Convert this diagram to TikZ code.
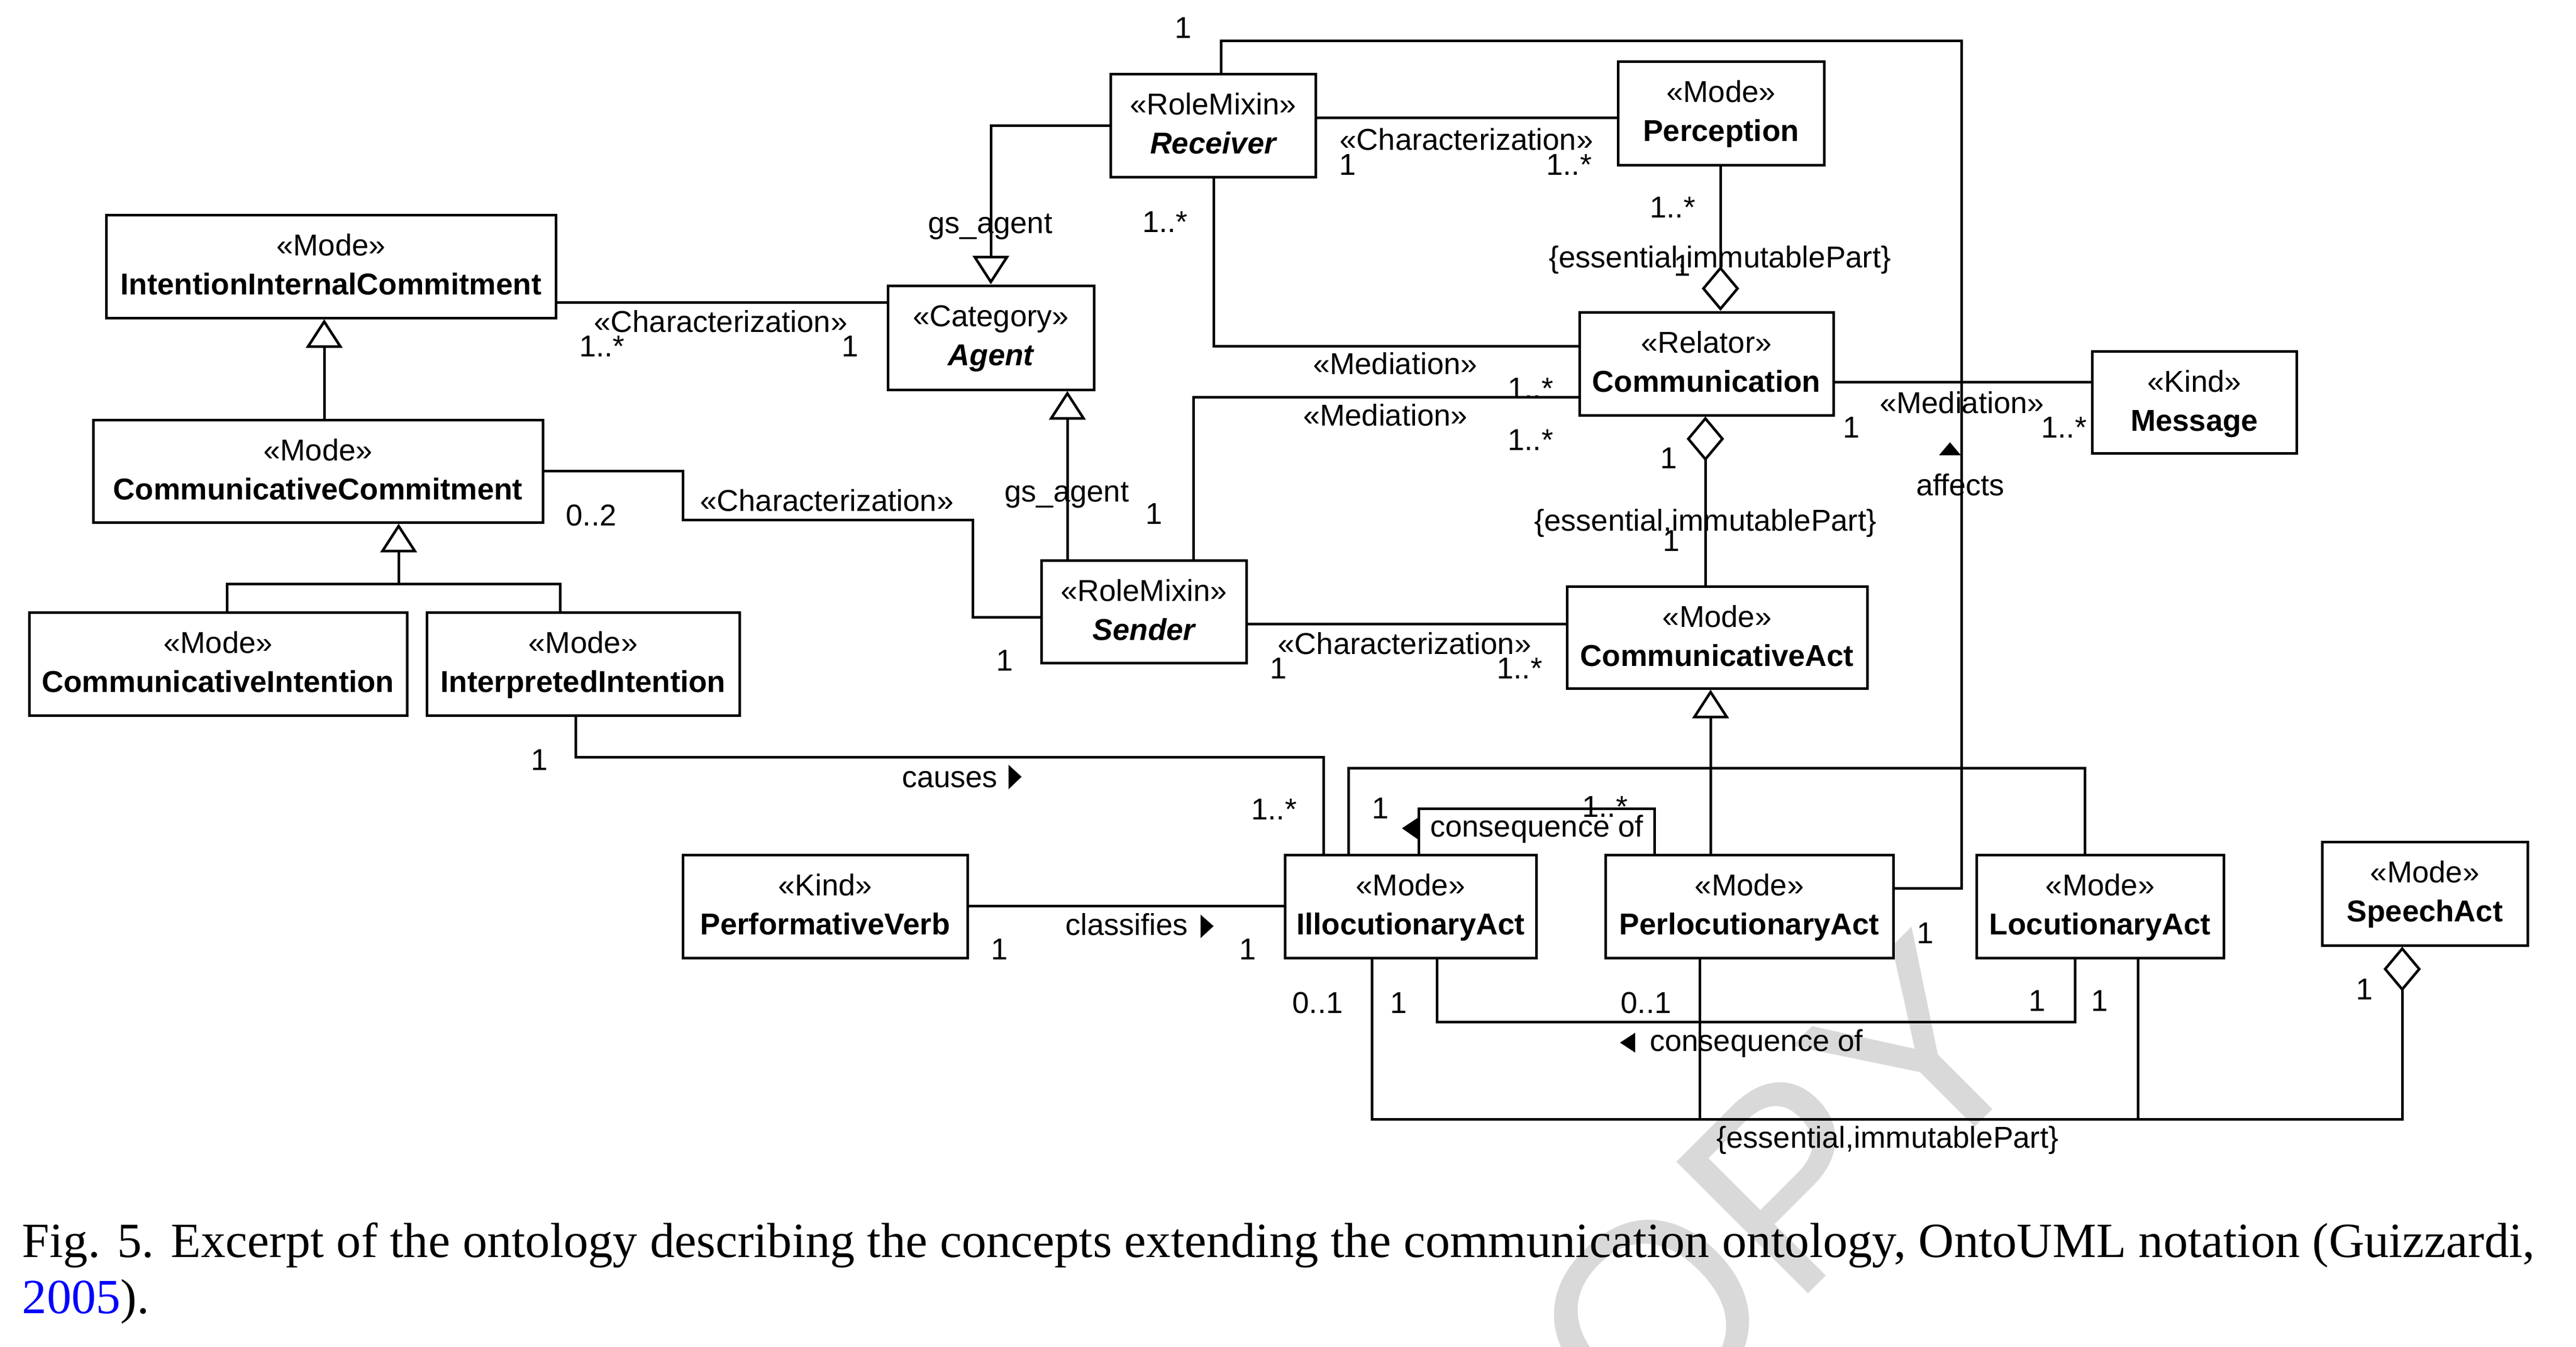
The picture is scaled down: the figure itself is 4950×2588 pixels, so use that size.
\documentclass[tikz,border=0pt]{standalone}
\usepackage{fontspec}
\setmainfont{Liberation Sans}
\newfontfamily\capfont{Liberation Serif}
\usetikzlibrary{arrows.meta,calc,fit}
\newcommand\diagfont{\fontsize{5.8pt}{7pt}\selectfont}
\tikzset{
  classbox/.style={draw, line width=0.5pt, fill=white, inner sep=0pt},
  stereo/.style={anchor=base, inner sep=0pt, font=\diagfont},
  cname/.style={anchor=base, inner sep=0pt, font=\diagfont\bfseries},
  cnamei/.style={anchor=base, inner sep=0pt, font=\diagfont\bfseries\itshape},
  lbl/.style={anchor=base, inner sep=0pt, font=\diagfont},
  conn/.style={line width=0.5pt},
  gen/.style={conn, -{Triangle[open, length=5.5pt, width=7pt]}},
  agg/.style={conn, {Diamond[open, length=8.6pt, width=7.2pt]}-},
  dirtri/.style={fill=black, draw=none},
  wmark/.style={inner sep=0pt, text=black!15, font=\fontsize{52pt}{60pt}\selectfont},
  capt/.style={inner sep=0pt, font=\capfont\fontsize{9.45pt}{11pt}\selectfont},
}
% name, x1, y1, x2, y2, stereotype, class name, name style
\newcommand\umlclass[8]{%
  \coordinate (#1nw) at (#2,#3);
  \coordinate (#1se) at (#4,#5);
  \node[classbox, fit=(#1nw)(#1se)] (#1) {};
  \node[stereo] (#1st) at ($(#1.north)+(0,81)$) {«#6»};
  \node[#8] (#1nm) at ($(#1.north)+(0,156)$) {#7};
}
\begin{document}
\begin{tikzpicture}[x=0.1pt,y=-0.1pt]
\useasboundingbox (0,0) rectangle (4950,2588);
\fill[white] (0,0) rectangle (4950,2588);

% watermark
\node[wmark, rotate=45, anchor=base east] (wm) at (3936,2025) {OPY};

% classes
\umlclass{iic}{204}{413}{1068}{611}{Mode}{IntentionInternalCommitment}{cname}
\umlclass{cc}{179}{807}{1043}{1004}{Mode}{CommunicativeCommitment}{cname}
\umlclass{ci}{56}{1177}{782}{1375}{Mode}{CommunicativeIntention}{cname}
\umlclass{ii}{820}{1177}{1421}{1375}{Mode}{InterpretedIntention}{cname}
\umlclass{agent}{1706}{549}{2102}{749}{Category}{Agent}{cnamei}
\umlclass{receiver}{2134}{142}{2528}{340}{RoleMixin}{Receiver}{cnamei}
\umlclass{perception}{3109}{118}{3505}{317}{Mode}{Perception}{cname}
\umlclass{comm}{3035}{600}{3523}{798}{Relator}{Communication}{cname}
\umlclass{message}{4020}{675}{4413}{871}{Kind}{Message}{cname}
\umlclass{sender}{2001}{1077}{2395}{1274}{RoleMixin}{Sender}{cnamei}
\umlclass{ca}{3011}{1127}{3588}{1323}{Mode}{CommunicativeAct}{cname}
\umlclass{pv}{1312}{1643}{1859}{1841}{Kind}{PerformativeVerb}{cname}
\umlclass{illoc}{2469}{1643}{2952}{1841}{Mode}{IllocutionaryAct}{cname}
\umlclass{perloc}{3085}{1643}{3638}{1841}{Mode}{PerlocutionaryAct}{cname}
\umlclass{loc}{3798}{1643}{4273}{1841}{Mode}{LocutionaryAct}{cname}
\umlclass{speech}{4462}{1618}{4857}{1817}{Mode}{SpeechAct}{cname}

% helper coordinates
\coordinate (g1) at (623,0);
\coordinate (g2) at (766,1122);
\coordinate (g2l) at (436,1122);
\coordinate (g2r) at (1076,1122);
\coordinate (ch1) at (0,581);
\coordinate (ch2a) at (1312,905);
\coordinate (ch2b) at (1869,999);
\coordinate (ch2c) at (0,1186);
\coordinate (ga1) at (1904,241);
\coordinate (ga2) at (2051,0);
\coordinate (rp) at (0,226);
\coordinate (rm) at (2332,665);
\coordinate (sm) at (2293,763);
\coordinate (pc) at (3306,0);
\coordinate (cc2) at (3277,0);
\coordinate (cmsg) at (0,734);
\coordinate (rpa) at (2346,78);
\coordinate (rpb) at (3769,1707);
\coordinate (sca) at (0,1199);
\coordinate (gca) at (3287,1476);
\coordinate (gcl) at (2591,1476);
\coordinate (gcr) at (4006,1476);
\coordinate (cs1) at (1106,1455);
\coordinate (cs2) at (2543,1455);
\coordinate (cl) at (0,1741);
\coordinate (co1) at (2726,1554);
\coordinate (co2) at (3179,1554);
\coordinate (co3) at (2761,1964);
\coordinate (co4) at (3987,1964);
\coordinate (e1) at (2636,2151);
\coordinate (e2) at (4616,2151);
\coordinate (e3) at (3266,2151);
\coordinate (e4) at (4108,2151);

% connectors
\draw[gen] (cc.north -| g1) -- (iic.south -| g1);
\draw[gen] (g2) -- (cc.south -| g2);
\draw[conn] (ci.north -| g2l) -- (g2l) -- (g2r) -- (ii.north -| g2r);
\draw[conn] (iic.east |- ch1) -- (agent.west |- ch1);
\draw[conn] (cc.east |- ch2a) -- (ch2a) |- (ch2b) |- (sender.west |- ch2c);
\draw[gen] (receiver.west |- ga1) -| (agent.north -| ga1);
\draw[gen] (sender.north -| ga2) -- (agent.south -| ga2);
\draw[conn] (receiver.east |- rp) -- (perception.west |- rp);
\draw[conn] (receiver.south -| rm) |- (comm.west |- rm);
\draw[conn] (sender.north -| sm) |- (comm.west |- sm);
\draw[agg] (comm.north -| pc) -- (perception.south -| pc);
\draw[agg] (comm.south -| cc2) -- (ca.north -| cc2);
\draw[conn] (comm.east |- cmsg) -- (message.west |- cmsg);
\draw[conn] (receiver.north -| rpa) -- (rpa) -| (rpb) -- (perloc.east |- rpb);
\draw[conn] (sender.east |- sca) -- (ca.west |- sca);
\draw[gen] (perloc.north -| gca) -- (ca.south -| gca);
\draw[conn] (illoc.north -| gcl) -- (gcl) -- (gcr) -- (loc.north -| gcr);
\draw[conn] (ii.south -| cs1) -- (cs1) -- (cs2) -- (illoc.north -| cs2);
\draw[conn] (pv.east |- cl) -- (illoc.west |- cl);
\draw[conn] (illoc.north -| co1) -- (co1) -- (co2) -- (perloc.north -| co2);
\draw[conn] (illoc.south -| co3) -- (co3) -- (co4) -- (loc.south -| co4);
\draw[agg] (speech.south -| e2) -- (e2) -- (e1) -- (illoc.south -| e1);
\draw[conn] (perloc.south -| e3) -- (e3);
\draw[conn] (loc.south -| e4) -- (e4);

% reading-direction triangles
\fill[dirtri] (1938,1470) -- (1963,1493) -- (1938,1517) -- cycle;
\fill[dirtri] (2307,1758) -- (2332,1780) -- (2307,1803) -- cycle;
\fill[dirtri] (2727,1570) -- (2694,1592) -- (2727,1615) -- cycle;
\fill[dirtri] (3142,1985) -- (3113,2004) -- (3142,2023) -- cycle;
\fill[dirtri] (3726,875) -- (3747,850) -- (3768,875) -- cycle;

% labels
\node[lbl] (l1) at (1385,638) {«Characterization»};
\node[lbl] (l2) at (1157,685) {1..*};
\node[lbl] (l3) at (1634,685) {1};
\node[lbl] (l4) at (1589,982) {«Characterization»};
\node[lbl] (l5) at (1136,1010) {0..2};
\node[lbl] (l6) at (1931,1289) {1};
\node[lbl] (l7) at (1903,448) {gs\_agent};
\node[lbl] (l8) at (2050,964) {gs\_agent};
\node[lbl] (l9) at (2274,73) {1};
\node[lbl] (l10) at (2818,288) {«Characterization»};
\node[lbl] (l11) at (2590,336) {1};
\node[lbl] (l12) at (3015,336) {1..*};
\node[lbl] (l13) at (2239,446) {1..*};
\node[lbl] (l14) at (2681,719) {«Mediation»};
\node[lbl] (l15) at (2941,766) {1..*};
\node[lbl] (l16) at (2662,818) {«Mediation»};
\node[lbl] (l17) at (2941,865) {1..*};
\node[lbl] (l18) at (2218,1007) {1};
\node[lbl] (l19) at (3214,418) {1..*};
\node[lbl] (l20) at (3305,514) {\{essential,immutablePart\}};
\node[lbl] (l21) at (3233,530) {1};
\node[lbl] (l22) at (3207,900) {1};
\node[lbl] (l23) at (3277,1020) {\{essential,immutablePart\}};
\node[lbl] (l24) at (3212,1059) {1};
\node[lbl] (l25) at (2699,1257) {«Characterization»};
\node[lbl] (l26) at (2457,1304) {1};
\node[lbl] (l27) at (2920,1304) {1..*};
\node[lbl] (l28) at (3770,794) {«Mediation»};
\node[lbl] (l29) at (3558,841) {1};
\node[lbl] (l30) at (3966,841) {1..*};
\node[lbl] (l31) at (3767,952) {affects};
\node[lbl] (l32) at (1037,1480) {1};
\node[lbl] (l33) at (1825,1513) {causes};
\node[lbl] (l34) at (2448,1575) {1..*};
\node[lbl] (l35) at (2165,1797) {classifies};
\node[lbl] (l36) at (1921,1844) {1};
\node[lbl] (l37) at (2398,1844) {1};
\node[lbl] (l38) at (2653,1573) {1};
\node[lbl] (l39) at (2953,1608) {consequence of};
\node[lbl] (l40) at (3084,1570) {1..*};
\node[lbl] (l41) at (2532,1947) {0..1};
\node[lbl] (l42) at (2688,1947) {1};
\node[lbl] (l43) at (3163,1947) {0..1};
\node[lbl] (l44) at (3375,2020) {consequence of};
\node[lbl] (l45) at (3627,2206) {\{essential,immutablePart\}};
\node[lbl] (l46) at (3700,1813) {1};
\node[lbl] (l47) at (3915,1943) {1};
\node[lbl] (l48) at (4035,1943) {1};
\node[lbl] (l49) at (4544,1921) {1};

% caption
\node[capt, anchor=base west] (cap1) at (41,2416) {\makebox[482.8pt][s]{Fig. 5. Excerpt of the ontology describing the concepts extending the communication ontology, OntoUML notation (Guizzardi,}};
\node[capt, anchor=base west] (cap2) at (41,2524) {\textcolor{blue}{2005}).};
\end{tikzpicture}
\end{document}
